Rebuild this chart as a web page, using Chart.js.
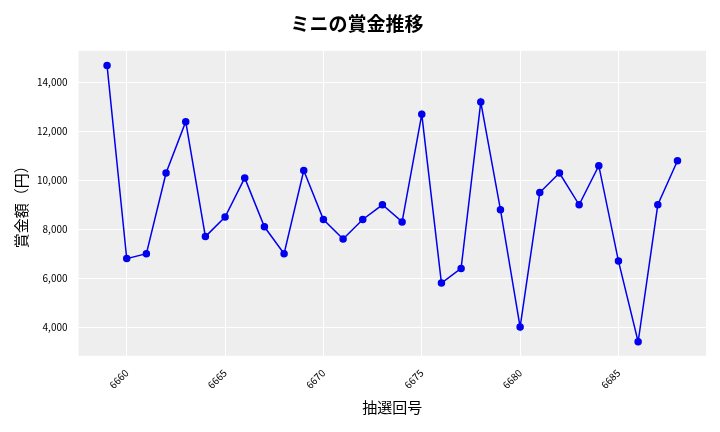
<!DOCTYPE html>
<html><head><meta charset="utf-8">
<script src="https://cdn.jsdelivr.net/npm/chart.js@4"></script>
<style>html,body{margin:0;padding:0;background:#fff}#w{width:720px;height:432px}</style>
</head><body><div id="w"><canvas id="c"></canvas></div>
<script>
const draws=[6659,6660,6661,6662,6663,6664,6665,6666,6667,6668,6669,6670,6671,6672,6673,6674,6675,6676,6677,6678,6679,6680,6681,6682,6683,6684,6685,6686,6687,6688];
const prizes=[14700,6800,7000,10300,12400,7700,8500,10100,8100,7000,10400,8400,7600,8400,9000,8300,12700,5800,6400,13200,8800,4000,9500,10300,9000,10600,6700,3400,9000,10800];
const F='"Noto Sans CJK JP","Noto Sans",sans-serif';
const bg={id:'bg',beforeDraw(c){const a=c.chartArea,x=c.ctx;x.save();x.fillStyle='#eeeeee';x.fillRect(a.left,a.top,a.right-a.left,a.bottom-a.top);x.restore();}};
new Chart(document.getElementById('c'),{type:'line',
data:{datasets:[{data:draws.map((d,i)=>({x:d,y:prizes[i]})),borderColor:'#0000ee',backgroundColor:'#0000ee',borderWidth:1.5,pointRadius:3,tension:0}]},
options:{responsive:true,maintainAspectRatio:false,animation:false,
layout:{padding:{left:8,right:14,top:8,bottom:12}},
plugins:{legend:{display:false},title:{display:true,text:'ミニの賞金推移',font:{family:F,size:19,weight:'bold'},color:'#000',padding:{top:4,bottom:16}}},
scales:{
x:{type:'linear',min:6657.55,max:6689.45,grid:{color:'#fff',lineWidth:1},border:{display:false},
 afterBuildTicks(s){s.ticks=[6660,6665,6670,6675,6680,6685].map(v=>({value:v}));},
 ticks:{callback:v=>String(v),maxRotation:45,minRotation:45,font:{family:F,size:10},color:'#000'},
 title:{display:true,text:'抽選回号',font:{family:F,size:15},color:'#000'}},
y:{min:2826,max:15296,grid:{color:'#fff',lineWidth:1},border:{display:false},
 afterBuildTicks(s){s.ticks=[4000,6000,8000,10000,12000,14000].map(v=>({value:v}));},
 ticks:{callback:v=>v.toLocaleString('en-US'),font:{family:F,size:10},color:'#000'},
 title:{display:true,text:'賞金額（円）',font:{family:F,size:15},color:'#000'}}}},
plugins:[bg]});
</script></body></html>
